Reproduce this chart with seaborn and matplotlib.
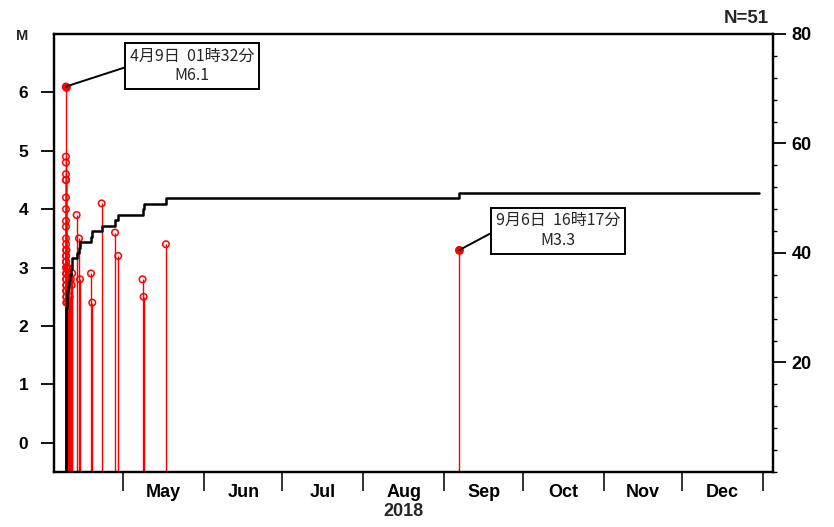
"""Magnitude-time plot with cumulative event count (2018 sequence)."""

import matplotlib

matplotlib.use("Agg")
import matplotlib.dates as mdates
import matplotlib.pyplot as plt
import pandas as pd
import seaborn as sns
from matplotlib.ticker import FixedLocator, MultipleLocator, NullFormatter

# Event origin times and magnitudes
event_times = [
    "2018-04-09 01:32",
    # aftershocks in the first days
    "2018-04-09 01:36", "2018-04-09 01:40", "2018-04-09 01:44", "2018-04-09 01:48",
    "2018-04-09 01:53", "2018-04-09 01:58", "2018-04-09 02:03", "2018-04-09 02:09",
    "2018-04-09 02:15", "2018-04-09 02:21", "2018-04-09 02:28", "2018-04-09 02:35",
    "2018-04-09 02:43", "2018-04-09 02:51", "2018-04-09 03:00", "2018-04-09 03:09",
    "2018-04-09 03:19", "2018-04-09 03:29", "2018-04-09 03:40", "2018-04-09 03:52",
    "2018-04-09 04:05", "2018-04-09 04:19", "2018-04-09 04:34", "2018-04-09 04:50",
    "2018-04-09 05:07", "2018-04-09 05:26", "2018-04-09 05:47", "2018-04-09 06:10",
    "2018-04-09 06:40", "2018-04-09 07:15", "2018-04-09 09:30", "2018-04-09 13:00",
    "2018-04-09 18:40", "2018-04-10 03:00", "2018-04-10 12:00", "2018-04-10 23:00",
    "2018-04-11 06:00",
    # later events
    "2018-04-11 11:00", "2018-04-13 04:00", "2018-04-14 01:30", "2018-04-14 11:00",
    "2018-04-18 16:00", "2018-04-19 04:00", "2018-04-22 18:00", "2018-04-27 21:00",
    "2018-04-29 02:00", "2018-05-08 09:40", "2018-05-08 20:05", "2018-05-17 09:00",
    "2018-09-06 16:17",
]
magnitudes = [
    6.1,
    4.9, 4.8, 4.6, 4.5, 4.2, 4.0, 3.8, 3.5,
    3.7, 3.3, 4.5, 3.2, 3.1, 3.0, 2.9, 3.4,
    2.8, 3.1, 2.7, 2.6, 3.2, 2.5, 2.9, 2.4,
    3.0, 2.8, 2.6, 3.3, 2.7, 2.5, 2.9, 2.4,
    3.0, 2.6, 2.5, 2.8, 2.7,
    2.9, 3.9, 3.5, 2.8,
    2.9, 2.4, 4.1, 3.6,
    3.2, 2.8, 2.5, 3.4,
    3.3,
]

month_labels = ["May", "Jun", "Jul", "Aug", "Sep", "Oct", "Nov", "Dec"]
count_ticks = [20, 40, 60, 80]
mag_ticks = [0, 1, 2, 3, 4, 5, 6]
callouts = {
    "2018-04-09 01:32": "4月9日  01時32分\nM6.1",
    "2018-09-06 16:17": "9月6日  16時17分\nM3.3",
}

sns.set_theme(style="ticks")
plt.rcParams["font.family"] = ["Liberation Sans", "Noto Sans CJK JP", "DejaVu Sans"]
plt.rcParams["axes.linewidth"] = 1.6
plt.rcParams["xtick.labelcolor"] = "black"
plt.rcParams["ytick.labelcolor"] = "black"
plt.rcParams["xtick.color"] = "black"
plt.rcParams["ytick.color"] = "black"

df = pd.DataFrame({"time": pd.to_datetime(event_times), "mag": magnitudes})
df = df.sort_values("time").reset_index(drop=True)
n_events = len(df)

# cumulative count as a step curve, starting from zero at the first event
cum = pd.DataFrame({
    "time": [df["time"].iloc[0]] + list(df["time"]) + [pd.Timestamp("2018-12-30 12:00")],
    "count": [0] + list(range(1, n_events + 1)) + [n_events],
})

fig = plt.figure(figsize=(8.34, 5.27), dpi=100)
ax = fig.add_axes([54 / 834, 1 - 472 / 527, (773 - 54) / 834, (472 - 34) / 527])
ax2 = ax.twinx()

# magnitude stems
ax.vlines(df["time"], ymin=-0.5, ymax=df["mag"], color="red", lw=1.0, zorder=2)
sns.scatterplot(data=df, x="time", y="mag", ax=ax, marker="o", s=22,
                facecolor="none", edgecolor="red", linewidth=1.1, legend=False, zorder=3)

# cumulative number
sns.lineplot(data=cum, x="time", y="count", ax=ax2, color="black", lw=1.8,
             drawstyle="steps-post", estimator=None, sort=False)

# callouts for the largest event and the September event
offsets = [(91, 15), (71, 14)]
for (t, label), off in zip(callouts.items(), offsets):
    row = df[df["time"] == pd.Timestamp(t)].iloc[0]
    ax.scatter([row["time"]], [row["mag"]], s=28, color="red", zorder=4)
    ax.annotate(label, xy=(row["time"], row["mag"]), xytext=off, textcoords="offset points",
                ha="center", va="center", fontsize=11.5, linespacing=1.2,
                family=["Noto Sans CJK JP", "DejaVu Sans"], zorder=5,
                bbox=dict(boxstyle="square,pad=0.3", fc="white", ec="black", lw=1.4),
                arrowprops=dict(arrowstyle="-", color="black", lw=1.4,
                                relpos=(0, 0.5), shrinkA=0, shrinkB=0))

ax.set_xlim(pd.Timestamp("2018-04-04 12:00"), pd.Timestamp("2019-01-04 20:00"))
ax.set_ylim(-0.5, 7)
ax2.set_ylim(0, 80)

# x axis: month boundaries as ticks, names centred in each month
month_starts = pd.date_range("2018-05-01", "2019-01-01", freq="MS")
month_mids = month_starts[:-1] + (month_starts[1:] - month_starts[:-1]) / 2
ax.xaxis.set_major_locator(FixedLocator(mdates.date2num(month_starts)))
ax.xaxis.set_major_formatter(NullFormatter())
ax.xaxis.set_minor_locator(FixedLocator(mdates.date2num(month_mids)))
ax.set_xticklabels(month_labels, minor=True)
ax.tick_params(axis="x", which="major", direction="out", length=14, width=1.3, color="#222222")
ax.tick_params(axis="x", which="minor", length=0, pad=8.5, labelsize=13)
for lab in ax.get_xticklabels(minor=True):
    lab.set_fontweight("bold")

ax.set_yticks(mag_ticks)
ax.tick_params(axis="y", which="major", direction="out", length=9.5, width=1.3,
               pad=9, labelsize=12.5, left=True)
for lab in ax.get_yticklabels():
    lab.set_fontweight("bold")

ax2.set_yticks(count_ticks)
ax2.yaxis.set_minor_locator(MultipleLocator(4))
ax2.tick_params(axis="y", which="major", direction="out", length=9.5, width=1.3,
                pad=4, labelsize=13)
ax2.tick_params(axis="y", which="minor", direction="out", length=3, width=1.0)
for lab in ax2.get_yticklabels():
    lab.set_fontweight("bold")

ax.set_xlabel("")
ax.set_ylabel("")
ax2.set_xlabel("")
ax2.set_ylabel("")
for a in (ax, ax2):
    for sp in a.spines.values():
        sp.set_visible(True)
        sp.set_linewidth(1.6)
        sp.set_color("black")

fig.text(22.5 / 834, 1 - 36 / 527, "M", ha="center", va="center", fontsize=10.5, fontweight="bold")
fig.text(746.7 / 834, 1 - 18.3 / 527, "N=51", ha="center", va="center", fontsize=13.5,
         fontweight="bold")
fig.text(403.5 / 834, 1 - 511.7 / 527, "2018", ha="center", va="center", fontsize=13,
         fontweight="bold")

fig.savefig("out.png", dpi=100)
